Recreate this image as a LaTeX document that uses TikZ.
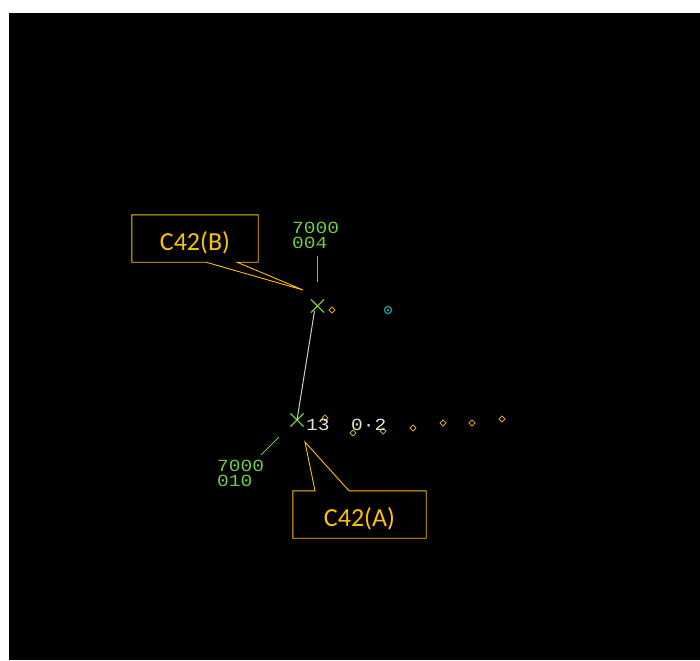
\documentclass[tikz,border=0pt]{standalone}
\usepackage{fontspec}
\setmainfont{Carlito}
\newfontfamily\radarfont[FakeStretch=1.15]{Liberation Mono}
\usetikzlibrary{shapes.geometric,shapes.misc}
\definecolor{callgold}{RGB}{255,192,0}
\definecolor{radgreen}{RGB}{112,204,64}
\definecolor{plotorange}{RGB}{214,160,40}
\definecolor{radcyan}{RGB}{20,160,160}
\definecolor{vecgray}{RGB}{205,205,205}
\definecolor{radwhite}{RGB}{225,225,225}
\tikzset{
  trk/.style={cross out,draw=radgreen,line width=1.2pt,minimum size=12pt,inner sep=0pt},
  plotmark/.style={diamond,draw=plotorange,line width=0.9pt,minimum size=6.5pt,inner sep=0pt},
  lbl/.style={font=\radarfont\fontsize{17}{15}\selectfont,text=radgreen,align=left,inner sep=0pt,anchor=north west},
  leader/.style={radgreen,line width=1pt},
  callbox/.style={minimum height=47pt,inner sep=0pt},
  calltxt/.style={font=\fontsize{26}{26}\selectfont,text=callgold,inner sep=0pt},
  callline/.style={draw=callgold,fill=black,line width=0.9pt,line join=miter}
}
\begin{document}
\begin{tikzpicture}[x=1pt,y=-1pt]
  \fill[white] (0,0) rectangle (700,660);
  \fill[black] (9,13) rectangle (700,660);
  % plot history
  \foreach \px/\py in {332/310,325/418,353/433,383/431,413/428,443/423,472/423,502/419}
    \node[plotmark] at (\px,\py) {};
  \draw[radcyan,line width=1.2pt] (388,310) circle (3.6pt);
  \fill[radcyan] (388,310) circle (1.3pt);
  % tracks
  \node[trk] (trkB) at (317.5,306) {};
  \node[trk] (trkA) at (297,420) {};
  \draw[vecgray,line width=1pt] ([shift={(-3,5)}]trkB.center) -- (trkA.center);
  % data blocks
  \node[lbl] (tagB) at (292,222) {7000\\004};
  \node[lbl] (tagA) at (217,460) {7000\\010};
  \draw[leader] ([shift={(0,-24)}]trkB.center) -- ([shift={(0,-50)}]trkB.center);
  \draw[leader] ([shift={(-18,17)}]trkA.center) -- ([shift={(-36,35)}]trkA.center);
  \node[lbl,text=radwhite,anchor=base west] (spd) at (306,430) {13};
  \node[lbl,text=radwhite,anchor=base west] (sep) at (351,430) {0·2};
  % callouts
  \coordinate (tipB) at (303,290);
  \coordinate (tipA) at (305,442);
  \node[callbox,minimum width=126pt] (calB) at (195,238.5) {};
  \node[callbox,minimum width=133pt] (calA) at (359.5,514.5) {};
  \draw[callline] (calB.north west) -- (calB.north east) -- (calB.south east)
    -- ([xshift=42pt]calB.south) -- (tipB) -- ([xshift=11pt]calB.south)
    -- (calB.south west) -- cycle;
  \draw[callline] (calA.south west) -- (calA.south east) -- (calA.north east)
    -- ([xshift=-10.5pt]calA.north) -- (tipA) -- ([xshift=-44.5pt]calA.north)
    -- (calA.north west) -- cycle;
  \node[calltxt] (txtB) at ([yshift=-4pt]calB.center) {C42(B)};
  \node[calltxt] (txtA) at ([yshift=-4pt]calA.center) {C42(A)};
\end{tikzpicture}
\end{document}
